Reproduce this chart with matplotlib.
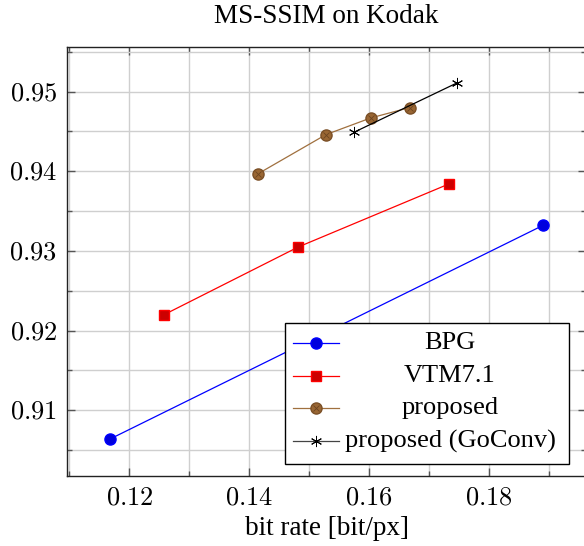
import matplotlib
matplotlib.use("Agg")
import matplotlib.pyplot as plt
from matplotlib.ticker import MultipleLocator, FuncFormatter
from matplotlib.patches import Rectangle

plt.rcParams["font.family"] = "Liberation Serif"
plt.rcParams["mathtext.fontset"] = "cm"

# data
bpg_x = [0.1168, 0.1890]
bpg_y = [0.9064, 0.9332]
vtm_x = [0.1258, 0.1482, 0.1733]
vtm_y = [0.9220, 0.9305, 0.9384]
prop_x = [0.1415, 0.1528, 0.1603, 0.1668]
prop_y = [0.9397, 0.9446, 0.9467, 0.9480]
goconv_x = [0.1575, 0.1747]
goconv_y = [0.9449, 0.9511]
labels = ["BPG", "VTM7.1", "proposed", "proposed (GoConv)"]

BROWN = "#a0703f"
BROWN_FILL = "#996633"
STAR = (6, 2, 0)

W, H = 584, 546
fig = plt.figure(figsize=(W / 100, H / 100), dpi=100)
ax = fig.add_axes([67 / W, 1 - 476 / H, 519 / W, 429 / H])

ax.plot(bpg_x, bpg_y, "-o", color="blue", lw=0.9, ms=8, mfc="#0000dd", mec="blue")
ax.plot(vtm_x, vtm_y, "-s", color="red", lw=0.9, ms=7.5, mfc="#cc0000", mec="red")
ax.plot(prop_x, prop_y, "-o", color=BROWN, lw=0.9, ms=8, mfc=BROWN_FILL, mec="#7a4f26")
ax.plot(prop_x, prop_y, "x", color="#6b4420", ms=5, mew=0.6)
ax.plot(goconv_x, goconv_y, "-", color="black", lw=0.9, marker=STAR, ms=8, mew=0.7)

ax.set_xlim(0.1096, 0.1962)
ax.set_ylim(0.90175, 0.9556)
ax.xaxis.set_major_locator(MultipleLocator(0.02))
ax.xaxis.set_minor_locator(MultipleLocator(0.01))
ax.yaxis.set_major_locator(MultipleLocator(0.01))
ax.yaxis.set_minor_locator(MultipleLocator(0.005))
fmt = FuncFormatter(lambda v, p: f"${v:.2f}$")
ax.xaxis.set_major_formatter(fmt)
ax.yaxis.set_major_formatter(fmt)

ax.grid(True, which="both", color="#cfcfcf", lw=1.0)
ax.set_axisbelow(True)
ax.tick_params(which="both", direction="in", top=True, right=True,
               color="#555555", labelsize=19)
ax.tick_params(which="major", length=6, width=1)
ax.tick_params(which="minor", length=3.5, width=1)
ax.tick_params(axis="x", pad=8)
ax.tick_params(axis="y", pad=7)
for s in ax.spines.values():
    s.set_linewidth(1.0)
    s.set_color("#222222")

ax.set_title("MS-SSIM on Kodak", fontsize=19.5, pad=17)
ax.set_xlabel("bit rate [bit/px]", fontsize=19.5, labelpad=5)

# pgfplots-style legend with centred labels
lx0, lx1 = (285 - 67) / 519, (569 - 67) / 519
ly0, ly1 = (476 - 464) / 429, (476 - 323) / 429
ax.add_patch(Rectangle((lx0, ly0), lx1 - lx0, ly1 - ly0, transform=ax.transAxes,
                       facecolor="white", edgecolor="black", lw=1.0, zorder=5))
styles = [
    dict(color="blue", marker="o", ms=8, mfc="#0000dd", mec="blue"),
    dict(color="red", marker="s", ms=7.5, mfc="#cc0000", mec="red"),
    dict(color=BROWN, marker="o", ms=8, mfc=BROWN_FILL, mec="#7a4f26"),
    dict(color="#444444", marker=STAR, ms=8, mec="black", mew=0.7),
]
hx0, hx1 = (293 - 67) / 519, (339 - 67) / 519
tx = (450 - 67) / 519
for i, (lab, st) in enumerate(zip(labels, styles)):
    yy = (476 - (343 + 32.7 * i)) / 429
    ax.plot([hx0, hx1], [yy, yy], transform=ax.transAxes, lw=0.9, zorder=6,
            color=st["color"])
    ax.plot([(hx0 + hx1) / 2], [yy], transform=ax.transAxes, zorder=7,
            ls="none", **st)
    if i == 2:
        ax.plot([(hx0 + hx1) / 2], [yy], transform=ax.transAxes, zorder=8,
                ls="none", marker="x", color="#6b4420", ms=5, mew=0.6)
    ax.text(tx, yy, lab, transform=ax.transAxes, ha="center", va="center",
            fontsize=19, zorder=8)

fig.savefig("out.png", dpi=100)
